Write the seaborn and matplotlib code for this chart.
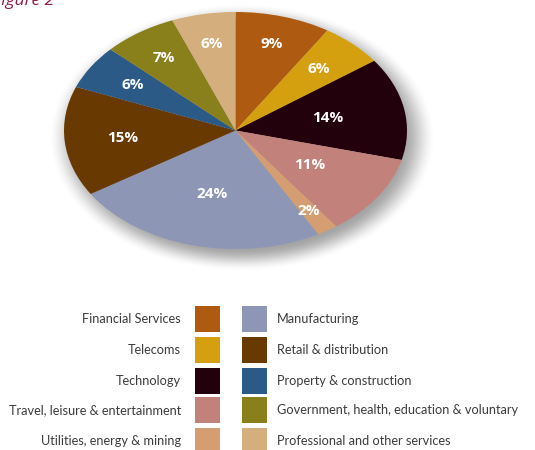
import numpy as np
import matplotlib
matplotlib.use("Agg")
import matplotlib.pyplot as plt
from matplotlib.patches import Rectangle
import seaborn as sns

sns.set_theme(style="white")
plt.rcParams["font.family"] = ["Open Sans", "DejaVu Sans"]

# Sector shares (%), clockwise from 12 o'clock
sectors = ["Financial Services", "Telecoms", "Technology",
           "Travel, leisure & entertainment", "Utilities, energy & mining",
           "Manufacturing", "Retail & distribution", "Property & construction",
           "Government, health, education & voluntary",
           "Professional and other services"]
shares = [9, 6, 14, 11, 2, 24, 15, 6, 7, 6]
colors = ["#AE5A10", "#D4A00F", "#22000C", "#C2817B", "#D59E72",
          "#8D97B5", "#683900", "#2B5A87", "#8A801B", "#D4AE7C"]
# radial position of each percentage label (fraction of radius)
label_r = [0.76, 0.71, 0.55, 0.52, 0.80, 0.55, 0.66, 0.71, 0.74, 0.74]

W, H = 535, 450
fig = plt.figure(figsize=(W / 100, H / 100), dpi=100)

# pie axes: ellipse centred at (235.5, 130.5) px, semi-axes 171.5 x 118.5 px
lim = 1.2
cx, cy, ax_, ay_ = 235.5, 130.5, 171.5, 118.5
aw, ah = ax_ * lim * 2, ay_ * lim * 2
ax = fig.add_axes([(cx - aw / 2) / W, (H - cy - ah / 2) / H, aw / W, ah / H])

# soft drop shadow under the pie
g = np.linspace(-lim, lim, 600)
xx, yy = np.meshgrid(g, g)
rr = np.sqrt((xx - 0.035) ** 2 + (yy + 0.06) ** 2)
t = np.clip((rr - 0.93) / (1.13 - 0.93), 0, 1)
alpha = 0.55 * (1 - (t * t * (3 - 2 * t)))
shadow = np.zeros((600, 600, 4))
shadow[..., :3] = 0.35
shadow[..., 3] = alpha
ax.imshow(shadow, extent=[-lim, lim, -lim, lim], origin="lower",
          aspect="auto", zorder=0, interpolation="bilinear")

wedges, _ = ax.pie(shares, colors=colors, startangle=90, counterclock=False,
                   radius=1.0, wedgeprops=dict(linewidth=0))
for w in wedges:
    w.set_zorder(2)
for w, v, r in zip(wedges, shares, label_r):
    ang = np.deg2rad((w.theta1 + w.theta2) / 2)
    ax.text(r * np.cos(ang), r * np.sin(ang), f"{v}%", ha="center",
            va="center", color="white", fontsize=11, fontweight="bold",
            zorder=3)
ax.set_aspect("auto")
ax.set_xlim(-lim, lim)
ax.set_ylim(-lim, lim)
ax.axis("off")

# figure caption, partly cut off at the top edge
fig.text(-0.014, 1 - 5 / H, "Figure 2", color="#8E1B4B", fontsize=12.5,
         fontstyle="italic", ha="left", va="baseline")

# two-column key
key_font = ["Lato", "DejaVu Sans"]
rows_y = [319, 350, 381, 410, 441]
sw, sh = 25, 26
for i, (name, col) in enumerate(zip(sectors, colors)):
    colm, row = divmod(i, 5)
    y = rows_y[row]
    if colm == 0:
        x0 = 195
        fig.text(181 / W, 1 - y / H, name, ha="right", va="center",
                 fontsize=9.2, color="#3c3c3c", family=key_font)
    else:
        x0 = 242
        fig.text(277 / W, 1 - y / H, name, ha="left", va="center",
                 fontsize=9.2, color="#3c3c3c", family=key_font)
    fig.add_artist(Rectangle((x0 / W, 1 - (y + sh / 2) / H), sw / W, sh / H,
                             transform=fig.transFigure, facecolor=col,
                             edgecolor="none"))

fig.savefig("out.png", dpi=100)
